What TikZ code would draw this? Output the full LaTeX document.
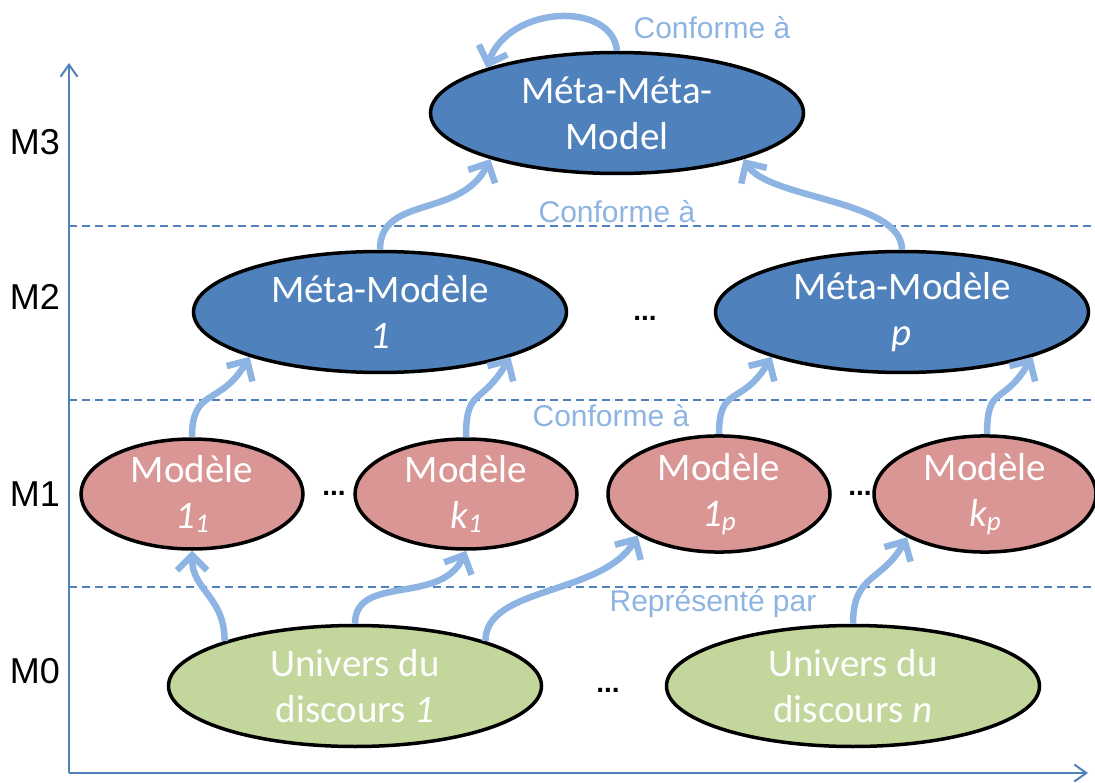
\documentclass[tikz,border=0pt]{standalone}
\usepackage{fontspec}
\setmainfont{Carlito}
\newfontfamily\labelfont{Liberation Sans}
\definecolor{MDEblue}{HTML}{4F81BD}
\definecolor{MDEred}{HTML}{D99694}
\definecolor{MDEgreen}{HTML}{C3D69B}
\definecolor{MDElight}{HTML}{8DB4E2}
\usetikzlibrary{arrows.meta, shapes.geometric}
\newcommand{\lowsub}[1]{\raisebox{-0.25ex}{\fontsize{27}{30}\selectfont #1}}

\begin{document}
\begin{tikzpicture}[x=1pt, y=-1pt,
   mdenode/.style={ellipse, draw=black, line width=3.5pt, inner sep=0pt,
      text=white, align=center, font=\fontsize{39}{46}\selectfont},
   bignode/.style={mdenode, minimum width=373pt, minimum height=121pt},
   modnode/.style={mdenode, fill=MDEred, minimum width=222pt, minimum height=110pt},
   conf/.style={-{Straight Barb[length=15pt, width=30pt]}, MDElight, line width=6.5pt},
   conflabel/.style={MDElight, font=\labelfont\fontsize{30}{36}\selectfont, anchor=base},
   mlabel/.style={font=\labelfont\fontsize{36}{43}\selectfont, anchor=base},
   dots/.style={font=\labelfont\bfseries\fontsize{28}{30}\selectfont},
   sep/.style={MDEblue, dash pattern=on 8pt off 5pt, line width=1.6pt},
   axis/.style={-{Straight Barb[length=12pt, width=17pt]}, MDEblue, line width=2pt}]
   \useasboundingbox (0,0) rectangle (1095,783);
   % Axes and level separators
   \coordinate (o) at (69,773);
   \draw[axis] (o) -- (69,63);
   \draw[axis] (o) -- (1088,773);
   \foreach \y in {226,400,587}
      \draw[sep] (69,\y) -- (1095,\y);
   \node[mlabel] (l3) at (35,155) {M3};
   \node[mlabel] (l2) at (35,310) {M2};
   \node[mlabel] (l1) at (35,506) {M1};
   \node[mlabel] (l0) at (35,683) {M0};
   % M3
   \node[bignode, fill=MDEblue] (mmm) at (617,113) {Méta-Méta-\\Model};
   % M2
   \node[bignode, fill=MDEblue] (mm1) at (380,312) {Méta-Modèle\\\textit{1}};
   \node[bignode, fill=MDEblue] (mmp) at (902,312) {Méta-Modèle\\\textit{p}};
   \node[dots] (d2) at (645,318) {...};
   % M1
   \node[modnode] (m11) at (192,494) {Modèle\\\textit{1\lowsub{1}}};
   \node[modnode] (mk1) at (466,494) {Modèle\\\textit{k\lowsub{1}}};
   \node[modnode] (m1p) at (719,494) {Modèle\\\textit{1\lowsub{p}}};
   \node[modnode] (mkp) at (985,494) {Modèle\\\textit{k\lowsub{p}}};
   \node[dots] (d1a) at (334,493) {...};
   \node[dots] (d1b) at (860,493) {...};
   % M0
   \node[bignode, fill=MDEgreen] (u1) at (355,686) {Univers du\\discours \textit{1}};
   \node[bignode, fill=MDEgreen] (un) at (853,686) {Univers du\\discours \textit{n}};
   \node[dots] (d0) at (608,690) {...};
   % Represented by
   \draw[conf] (u1.161) .. controls +(0,-45) and +(0,40) .. (m11.270);
   \draw[conf] (u1.90) .. controls +(0,-50) and +(-25,55) .. (mk1.270);
   \draw[conf] (u1.19) .. controls +(0,-55) and +(-35,60) .. (m1p.207);
   \draw[conf] (un.90) .. controls +(0,-50) and +(-25,45) .. (mkp.209);
   % Conforms to
   \draw[conf] (m11.90) .. controls +(0,-50) and +(-30,50) .. (mm1.199);
   \draw[conf] (mk1.90) .. controls +(0,-50) and +(-30,50) .. (mm1.341);
   \draw[conf] (m1p.90) .. controls +(0,-50) and +(-30,50) .. (mmp.199);
   \draw[conf] (mkp.88) .. controls +(0,-50) and +(-30,50) .. (mmp.341);
   \draw[conf] (mm1.90) .. controls +(0,-55) and +(-30,60) .. (mmm.200);
   \draw[conf] (mmp.90) .. controls +(0,-50) and +(25,40) .. (mmm.340);
   \draw[conf] (mmm.90) .. controls +(-5,-50) and +(22,-63) .. (mmm.161);
   \node[conflabel] (c3) at (712,39) {Conforme à};
   \node[conflabel] (c2) at (617,223) {Conforme à};
   \node[conflabel] (c1) at (611,426) {Conforme à};
   \node[conflabel] (r0) at (713,611) {Représenté par};
\end{tikzpicture}
\end{document}
